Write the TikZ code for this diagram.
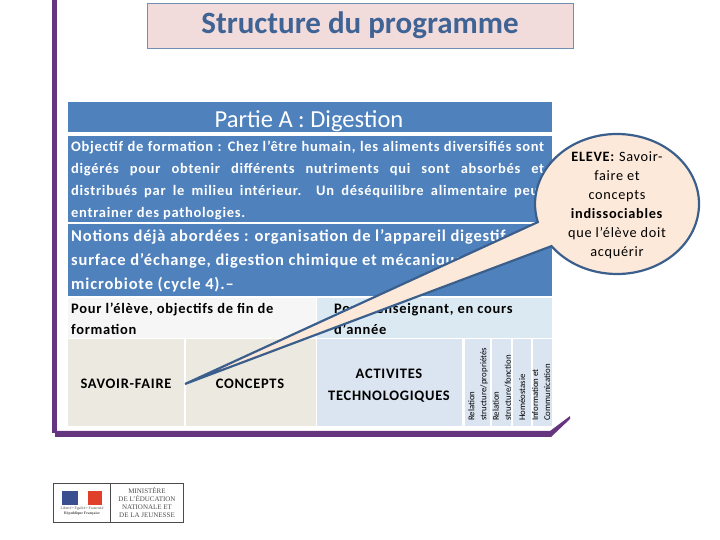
\documentclass[tikz,border=0pt]{standalone}
\usepackage{fontspec}
\setmainfont{Carlito}
\newfontfamily\widefont[LetterSpace=5]{Carlito}
\newfontfamily\logofont{Liberation Serif}
\usetikzlibrary{calc}
\definecolor{framepurple}{HTML}{66357F}
\definecolor{panelblue}{HTML}{4F81BD}
\definecolor{titlepink}{HTML}{F2DCDB}
\definecolor{titleblue}{HTML}{3F6395}
\definecolor{titleedge}{HTML}{6F90B2}
\definecolor{rowgrey}{HTML}{F6F6F6}
\definecolor{rowblue}{HTML}{DBEAF2}
\definecolor{cellbeige}{HTML}{ECE9E0}
\definecolor{cellblue}{HTML}{DBE5F1}
\definecolor{bubblefill}{HTML}{FDE9D9}
\definecolor{bubbleedge}{HTML}{3B5F8C}
\definecolor{flagblue}{HTML}{3A4F8F}
\definecolor{flagred}{HTML}{E0402A}
\tikzset{
  bandlabel/.style={font=\widefont\bfseries\fontsize{14.5}{22}\selectfont, text=white, align=justify, text width=473pt, inner sep=0pt, anchor=north west},
  notionlabel/.style={font=\widefont\bfseries\fontsize{16.5}{23.7}\selectfont, text=white, align=left, inner sep=0pt, anchor=north west},
  headlabel/.style={font=\widefont\bfseries\fontsize{14.5}{21}\selectfont, align=left, inner sep=0pt, anchor=north west},
  celllabel/.style={font=\widefont\bfseries\fontsize{14.5}{22}\selectfont, align=center, inner sep=0pt},
  sidelabel/.style={font=\fontsize{8.8}{12}\selectfont, align=left, rotate=90, anchor=west, inner sep=0pt},
  logolabel/.style={font=\logofont\fontsize{7}{7.7}\selectfont, text=black!70, align=center, inner sep=0pt}
}
\begin{document}
\begin{tikzpicture}[x=1pt,y=1pt]
    \useasboundingbox (0,0) rectangle (720,540);

    % Purple frame
    \fill[framepurple] (52,540) rectangle (57,107);
    \fill[framepurple] (55,109) -- (550,109) -- (570,124) -- (570,121) -- (551,103) -- (55,103) -- cycle;

    % Title
    \draw[titleedge, fill=titlepink] (147,537) rectangle (573,492);
    \node[font=\bfseries\fontsize{31}{34}\selectfont, text=titleblue] (title) at (360,515) {Structure du programme};

    % Blue bands
    \fill[panelblue] (68,438) rectangle (552,408);
    \node[font=\fontsize{24.5}{28}\selectfont, text=white] (partie) at (309,419) {Partie A : Digestion};

    \fill[panelblue] (68,404) rectangle (552,318);
    \node[bandlabel] (objectif) at (71,399) {Objectif de formation : Chez l’être humain, les aliments diversifiés sont\linebreak digérés pour obtenir différents nutriments qui sont absorbés et\linebreak distribués par le milieu intérieur. Un déséquilibre alimentaire peut\linebreak entrainer des pathologies.};

    \fill[panelblue] (68,316) rectangle (552,244);
    \node[notionlabel] (notions) at (71,310.5) {Notions déjà abordées : organisation de l’appareil digestif,\\surface d’échange, digestion chimique et mécanique,\\microbiote (cycle 4).–};

    % Header row
    \fill[rowgrey] (68,242) rectangle (316,202);
    \node[headlabel] (eleverow) at (71,237) {Pour l’élève, objectifs de fin de\\formation};
    \fill[rowblue] (317,242) rectangle (552,202);
    \node[headlabel] (profrow) at (334,237) {Pour l’enseignant, en cours\\d’année};

    % Cells
    \fill[cellbeige] (68,201) rectangle (184,114);
    \node[celllabel] (savoir) at (126,156) {SAVOIR-FAIRE};
    \fill[cellbeige] (186,201) rectangle (316,114);
    \node[celllabel] (concepts) at (250,156) {CONCEPTS};
    \fill[cellblue] (317,201) rectangle (462,114);
    \node[celllabel] (activites) at (389,154) {ACTIVITES\\TECHNOLOGIQUES};

    % Side columns
    \fill[cellblue] (465,201) rectangle (490,114);
    \fill[cellblue] (492,201) rectangle (511,114);
    \fill[cellblue] (513,201) rectangle (531,114);
    \fill[cellblue] (533,201) rectangle (552,114);
    \node[sidelabel] (relprop) at (478,119) {Relation\\structure/propriétés};
    \node[sidelabel] (relfonc) at (502,119) {Relation\\structure/fonction};
    \node[sidelabel] (homeo) at (522,119) {Homéostasie};
    \node[sidelabel] (info) at (541,119) {Information et\\Communication};

    % Callout
    \coordinate (bubble) at (617,336);
    \coordinate (tip) at (185,156);
    \draw[line width=2.2pt, bubbleedge, fill=bubblefill, line join=miter]
        (tip) -- ($(bubble)+(217:82 and 70)$) arc[start angle=217, end angle=555, x radius=82, y radius=70] -- cycle;
    \node[font=\widefont\fontsize{14.3}{19}\selectfont, align=center, inner sep=0pt] (eleve) at (617,335) {\textbf{ELEVE:} Savoir-\\faire et\\concepts\\\textbf{indissociables}\\que l’élève doit\\acquérir};

    % Logo
    \draw[black!70] (53,57) rectangle (183,18);
    \draw[black!70] (110,57) -- (110,18);
    \fill[flagblue] (62,49) rectangle (78,35);
    \fill[flagred] (88,49) rectangle (102,35);
    \node[logolabel, font=\logofont\fontsize{3.8}{4.8}\selectfont] (devise) at (82,29) {Liberté • Égalité • Fraternité\\\textbf{République Française}};
    \node[logolabel] (ministere) at (147,37.5) {MINISTÈRE\\DE L’ÉDUCATION\\NATIONALE ET\\DE LA JEUNESSE};
\end{tikzpicture}
\end{document}
